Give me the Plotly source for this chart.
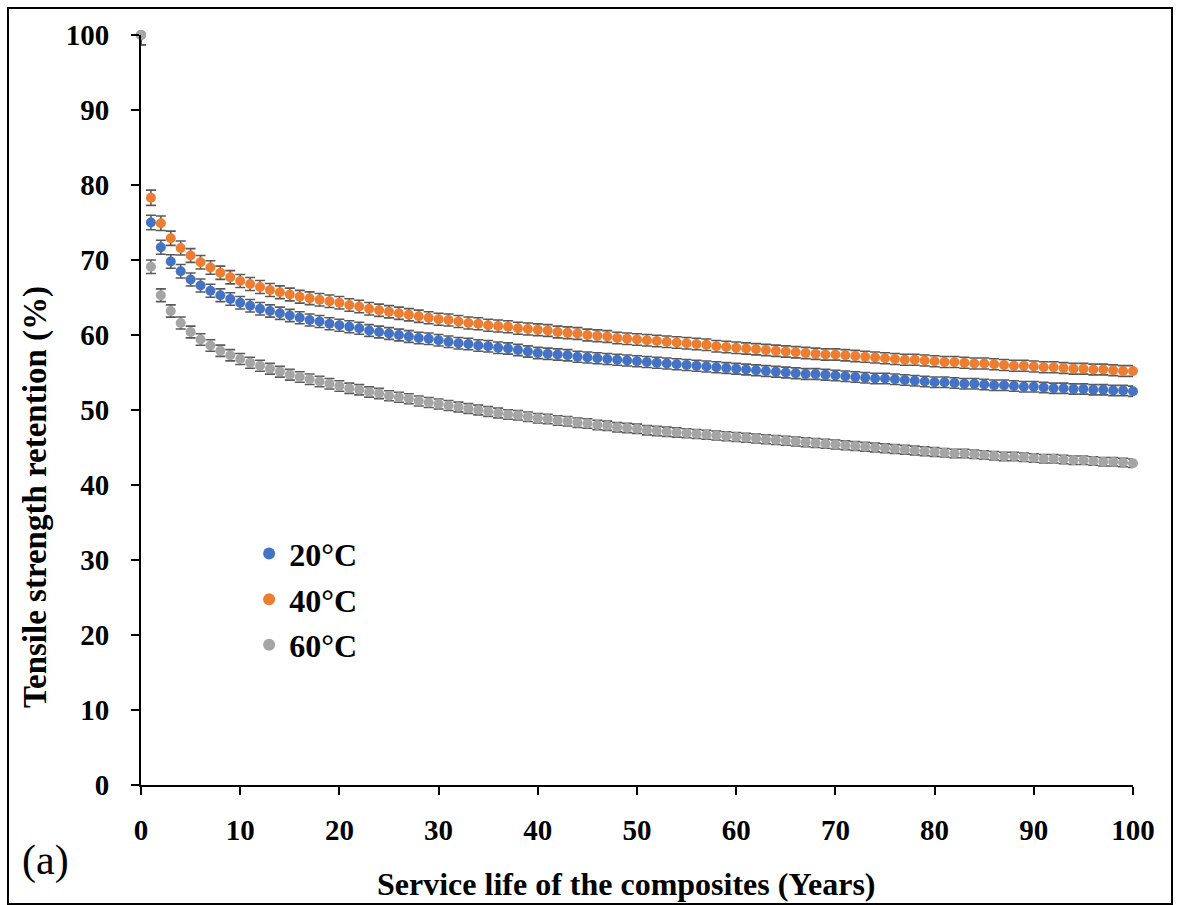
import plotly.graph_objects as go

years = list(range(0, 101))

t20 = [100, 75.0, 71.7, 69.8, 68.5, 67.4, 66.6, 65.9, 65.3, 64.8, 64.3,
       63.9, 63.5, 63.2, 62.9, 62.6, 62.3, 62.0, 61.8, 61.5, 61.3,
       61.1, 60.9, 60.6, 60.4, 60.2, 60.0, 59.8, 59.6, 59.5, 59.3,
       59.1, 58.9, 58.8, 58.6, 58.5, 58.3, 58.2, 58.0, 57.8, 57.6,
       57.5, 57.4, 57.3, 57.1, 57.0, 56.9, 56.8, 56.7, 56.6, 56.5,
       56.4, 56.3, 56.2, 56.1, 56.0, 55.9, 55.8, 55.7, 55.6, 55.5,
       55.4, 55.3, 55.2, 55.1, 55.0, 54.9, 54.8, 54.8, 54.7, 54.6,
       54.5, 54.4, 54.3, 54.2, 54.2, 54.1, 54.0, 53.9, 53.8, 53.7,
       53.7, 53.6, 53.5, 53.5, 53.4, 53.3, 53.3, 53.2, 53.1, 53.1,
       53.0, 52.9, 52.9, 52.8, 52.8, 52.7, 52.7, 52.6, 52.6, 52.5]

t40 = [100, 78.3, 74.9, 72.9, 71.6, 70.6, 69.7, 69.0, 68.3, 67.7, 67.2,
       66.8, 66.4, 66.0, 65.7, 65.4, 65.1, 64.9, 64.7, 64.5, 64.3,
       64.0, 63.8, 63.5, 63.3, 63.1, 62.9, 62.7, 62.5, 62.3, 62.1,
       62.0, 61.8, 61.6, 61.5, 61.3, 61.2, 61.1, 60.9, 60.8, 60.7,
       60.6, 60.4, 60.3, 60.2, 60.0, 59.9, 59.8, 59.6, 59.5, 59.4,
       59.3, 59.2, 59.1, 59.0, 58.9, 58.8, 58.7, 58.5, 58.4, 58.3,
       58.2, 58.1, 58.0, 57.9, 57.8, 57.7, 57.6, 57.5, 57.4, 57.4,
       57.3, 57.2, 57.1, 57.0, 56.9, 56.8, 56.7, 56.7, 56.6, 56.5,
       56.4, 56.4, 56.3, 56.2, 56.2, 56.1, 56.0, 55.9, 55.9, 55.8,
       55.7, 55.7, 55.6, 55.5, 55.5, 55.4, 55.4, 55.3, 55.2, 55.2]

t60 = [100, 69.1, 65.3, 63.2, 61.6, 60.4, 59.4, 58.6, 57.9, 57.3, 56.8,
       56.3, 55.9, 55.5, 55.1, 54.7, 54.4, 54.1, 53.8, 53.5, 53.2,
       52.9, 52.7, 52.4, 52.2, 51.9, 51.7, 51.5, 51.2, 51.0, 50.8,
       50.6, 50.4, 50.2, 50.0, 49.8, 49.6, 49.4, 49.3, 49.1, 48.9,
       48.8, 48.6, 48.5, 48.3, 48.2, 48.0, 47.9, 47.7, 47.6, 47.5,
       47.3, 47.2, 47.1, 47.0, 46.9, 46.8, 46.7, 46.6, 46.5, 46.4,
       46.3, 46.2, 46.1, 46.0, 45.9, 45.8, 45.7, 45.6, 45.5, 45.4,
       45.3, 45.2, 45.1, 45.0, 44.9, 44.8, 44.7, 44.6, 44.5, 44.4,
       44.3, 44.2, 44.2, 44.1, 44.0, 43.9, 43.8, 43.8, 43.7, 43.6,
       43.5, 43.5, 43.4, 43.3, 43.3, 43.2, 43.1, 43.1, 43.0, 42.9]

error_pct = 1.3

series = [("20°C", t20, "#4472C4"), ("40°C", t40, "#ED7D31"), ("60°C", t60, "#A5A5A5")]

x_title = "Service life of the composites (Years)"
y_title = "Tensile strength retention (%)"

SERIF = "Liberation Serif, Times New Roman, serif"

fig = go.Figure()
for name, vals, color in series:
    fig.add_trace(go.Scatter(
        x=years, y=vals, name=name, mode="markers", legendgroup=name,
        marker=dict(color=color, size=10, line=dict(width=0)),
        error_y=dict(type="percent", value=error_pct, color="#595959",
                     thickness=1.6, width=5),
        cliponaxis=False,
    ))

fig.update_layout(
    width=1179, height=905,
    margin=dict(l=141, r=46, t=35, b=120),
    paper_bgcolor="white", plot_bgcolor="white",
    font=dict(family=SERIF, color="black", size=29),
    showlegend=True,
    legend=dict(x=0.109, y=0.345, xanchor="left", yanchor="top",
                bgcolor="rgba(0,0,0,0)", tracegroupgap=1,
                font=dict(family=SERIF, size=32, color="black", weight="bold"),
                itemsizing="constant", itemwidth=30),
    xaxis=dict(range=[0, 100], tickvals=list(range(0, 101, 10)),
               showline=True, linecolor="black", linewidth=2,
               ticks="outside", ticklen=8, tickwidth=2, tickcolor="black",
               showgrid=False, zeroline=False, automargin=False,
               ticklabelposition="outside", ticklabelstandoff=10,
               tickfont=dict(family=SERIF, size=29, weight="bold")),
    yaxis=dict(range=[0, 100], tickvals=list(range(0, 101, 10)),
               showline=True, linecolor="black", linewidth=2,
               ticks="outside", ticklen=8, tickwidth=2, tickcolor="black",
               showgrid=False, zeroline=False, automargin=False,
               ticklabelposition="outside", ticklabelstandoff=16,
               tickfont=dict(family=SERIF, size=29, weight="bold")),
)

fig.add_annotation(text=x_title, xref="paper", yref="paper",
                   x=(626 - 141) / 992, y=(785 - 884) / 750,
                   xanchor="center", yanchor="middle", showarrow=False,
                   font=dict(family=SERIF, size=32, color="black", weight="bold"))

fig.add_annotation(text=y_title, xref="paper", yref="paper", textangle=-90,
                   x=(35 - 141) / 992, y=(785 - 497) / 750,
                   xanchor="center", yanchor="middle", showarrow=False,
                   font=dict(family=SERIF, size=33, color="black", weight="bold"))

fig.add_annotation(text="(a)", xref="paper", yref="paper",
                   x=(20 - 141) / 992, y=(785 - 860) / 750,
                   xanchor="left", yanchor="middle", showarrow=False,
                   font=dict(family=SERIF, size=42, color="black"))

fig.add_shape(type="rect", xref="paper", yref="paper",
              x0=(8 - 141) / 992, x1=(1172 - 141) / 992,
              y0=(785 - 904) / 750, y1=(785 - 8) / 750,
              line=dict(color="black", width=2), fillcolor="rgba(0,0,0,0)",
              layer="below")

fig.write_html("out.html")
